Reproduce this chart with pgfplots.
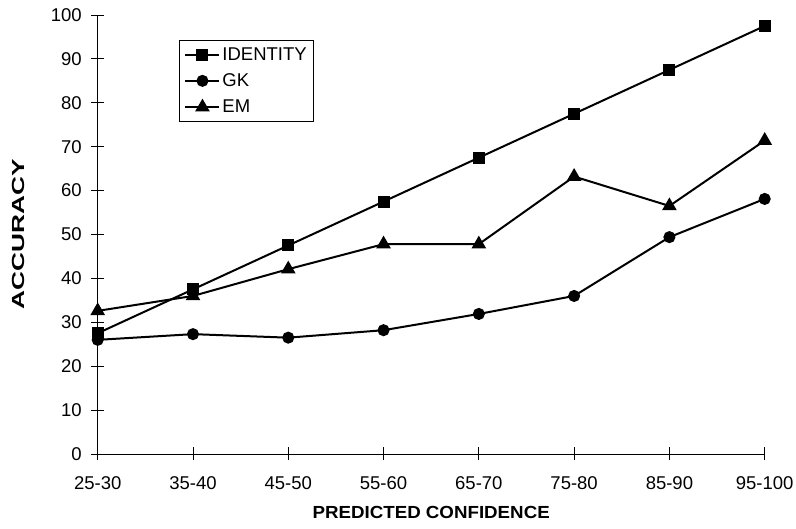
\documentclass[border=0pt]{standalone}
\usepackage{fontspec}
\setmainfont{Liberation Sans}
\usepackage{graphicx}
\usepackage{pgfplots}
\pgfplotsset{compat=1.18}
\begin{document}
\begin{tikzpicture}[x=1pt,y=1pt]
\useasboundingbox (-97.7,-75) rectangle (698.3,454);
\begin{axis}[
  at={(0,0)}, anchor=south west,
  scale only axis, width=667pt, height=439pt,
  xmin=0, xmax=7, ymin=0, ymax=100,
  axis x line=bottom, axis y line=left,
  axis line style={-, line width=0.8pt},
  tick align=center, major tick length=13pt,
  tick style={line width=0.8pt, black},
  xtick={0,...,7},
  xticklabels={25-30,35-40,45-50,55-60,65-70,75-80,85-90,95-100},
  ytick={0,10,...,100},
  /pgf/number format/assume math mode=true,
  tick label style={font=\fontsize{18.5}{20}\selectfont},
  xticklabel style={yshift=-13pt},
  yticklabel style={xshift=-6pt},
  xlabel={\scalebox{1.07}[1]{\bfseries PREDICTED CONFIDENCE}},
  ylabel={\scalebox{1.5}[1]{\bfseries ACCURACY}},
  label style={font=\fontsize{17.5}{20}\selectfont},
  xlabel style={at={(axis description cs:0.5,-0.1321)}, anchor=center},
  ylabel style={at={(axis description cs:-0.1195,0.5)}, anchor=center},
  legend style={at={(0.122,0.943)}, anchor=north west, draw=black, line width=0.8pt,
    font=\fontsize{18.5}{20}\selectfont, inner xsep=5pt, inner ysep=5pt,
    row sep=8pt, legend cell align=left},
  legend image code/.code={%
    \draw[mark repeat=2,mark phase=2] plot coordinates {(0pt,0pt) (17pt,0pt) (34pt,0pt)};},
  legend image post style={line width=2pt},
  every axis plot/.append style={black, line width=2pt, mark options={solid, fill=black}},
  clip=false,
]
\addplot[mark=square*, mark size=5pt] coordinates {
  (0,27.5) (1,37.5) (2,47.5) (3,57.5) (4,67.5) (5,77.5) (6,87.5) (7,97.5)};
\addlegendentry{IDENTITY}
\addplot[mark=*, mark size=5pt] coordinates {
  (0,26.0) (1,27.3) (2,26.5) (3,28.2) (4,31.9) (5,36.0) (6,49.4) (7,58.1)};
\addlegendentry{GK}
\addplot[mark=triangle*, mark size=6.5pt] coordinates {
  (0,32.6) (1,36.0) (2,42.1) (3,47.8) (4,47.8) (5,63.2) (6,56.5) (7,71.4)};
\addlegendentry{EM}
\end{axis}
\end{tikzpicture}
\end{document}
